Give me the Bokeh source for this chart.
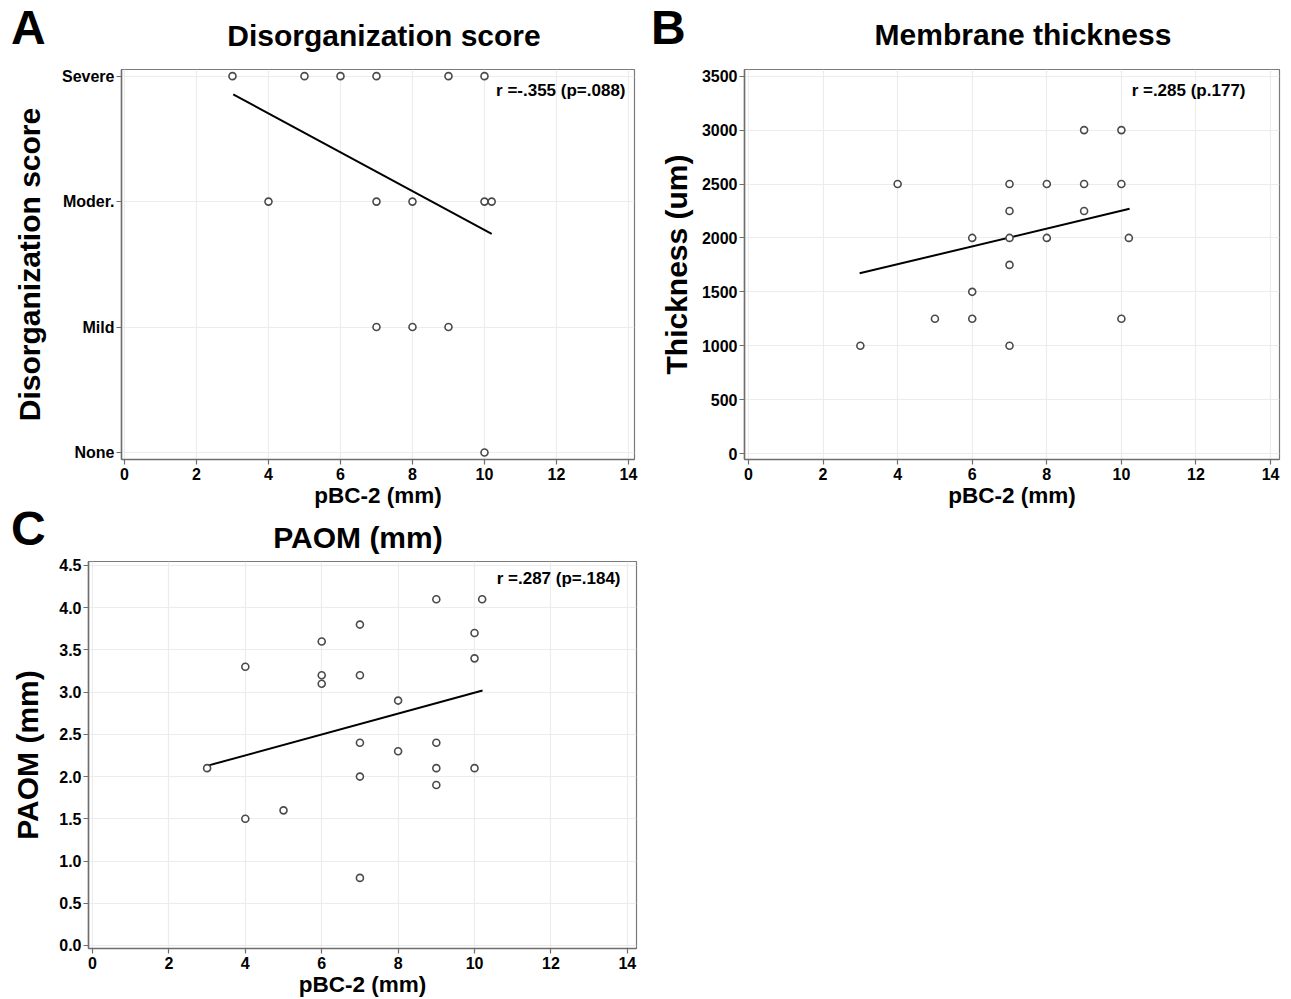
from bokeh.plotting import figure
from bokeh.layouts import column, row
from bokeh.models import FixedTicker, Label, Range1d, Div
from bokeh.embed import file_html
from bokeh.resources import INLINE

FONT = "Liberation Sans"

# ---------------- data ----------------
x_ticks = [0, 2, 4, 6, 8, 10, 12, 14]

# Panel A: disorganization score (0=None, 1=Mild, 2=Moder., 3=Severe)
dis_levels = [0, 1, 2, 3]
dis_level_names = ["None", "Mild", "Moder.", "Severe"]
dis_x = [3, 5, 6, 7, 9, 10, 4, 7, 8, 10, 10.2, 7, 8, 9, 10]
dis_y = [3, 3, 3, 3, 3, 3, 2, 2, 2, 2, 2, 1, 1, 1, 0]
dis_fit_x = [3.02, 10.2]
dis_fit_y = [2.855, 1.742]
dis_note = "r =-.355 (p=.088)"

# Panel B: membrane thickness
thk_ticks = [0, 500, 1000, 1500, 2000, 2500, 3000, 3500]
thk_x = [4, 7, 8, 9, 10, 9, 10, 7, 9, 6, 7, 8, 10.2, 7, 6, 5, 6, 10, 3, 7]
thk_y = [2500, 2500, 2500, 2500, 2500, 3000, 3000, 2250, 2250, 2000, 2000, 2000, 2000,
         1750, 1500, 1250, 1250, 1250, 1000, 1000]
thk_fit_x = [2.98, 10.22]
thk_fit_y = [1672, 2270]
thk_note = "r =.285 (p.177)"

# Panel C: PAOM
paom_ticks = [0.0, 0.5, 1.0, 1.5, 2.0, 2.5, 3.0, 3.5, 4.0, 4.5]
paom_x = [9, 10.2, 7, 10, 6, 10, 4, 6, 7, 6, 8, 7, 9, 8, 3, 9, 10, 7, 9, 5, 4, 7]
paom_y = [4.1, 4.1, 3.8, 3.7, 3.6, 3.4, 3.3, 3.2, 3.2, 3.1, 2.9, 2.4, 2.4, 2.3, 2.1, 2.1,
          2.1, 2.0, 1.9, 1.6, 1.5, 0.8]
paom_fit_x = [3.02, 10.21]
paom_fit_y = [2.13, 3.02]
paom_note = "r =.287 (p=.184)"


def make_header(width, height, letter, letter_x, letter_top, title, title_cx, title_top):
    html = (
        f"<div style=\"position:relative;width:{width}px;height:{height}px;"
        f"font-family:'{FONT}',Arial,sans-serif;font-weight:bold;color:black;"
        f"overflow:visible;margin:0;padding:0;\">"
        f"<span style=\"position:absolute;left:{letter_x}px;top:{letter_top}px;"
        f"font-size:48px;line-height:1;white-space:nowrap;\">{letter}</span>"
        f"<span style=\"position:absolute;left:{title_cx}px;top:{title_top}px;"
        f"transform:translateX(-50%);font-size:30px;line-height:1;"
        f"white-space:nowrap;\">{title}</span>"
        f"</div>"
    )
    return Div(text=html, width=width, height=height,
               styles={"margin": "0", "padding": "0", "overflow": "visible"})


def make_panel(width, height, bl, br, bt, bb, xr, yr, ylabel, ylabel_standoff,
               note, note_dx, note_dy):
    p = figure(width=width, height=height, output_backend="svg", toolbar_location=None,
               x_range=Range1d(*xr), y_range=Range1d(*yr), title_location=None,
               min_border_left=bl, min_border_right=br, min_border_top=bt,
               min_border_bottom=bb)
    p.background_fill_color = "white"
    p.border_fill_color = "white"
    p.outline_line_color = "#7a7a7a"
    p.outline_line_width = 1.2
    for ax in (p.xaxis[0], p.yaxis[0]):
        ax.axis_line_color = "#6e6e6e"
        ax.axis_line_width = 1.5
        ax.major_tick_line_color = "#6e6e6e"
        ax.major_tick_line_width = 1.2
        ax.major_tick_out = 5
        ax.major_tick_in = 0
        ax.minor_tick_line_color = None
        ax.major_label_text_font = FONT
        ax.major_label_text_font_style = "bold"
        ax.major_label_text_font_size = "16px"
        ax.major_label_text_color = "black"
        ax.axis_label_text_font = FONT
        ax.axis_label_text_font_style = "bold"
        ax.axis_label_text_color = "black"
    p.xaxis[0].ticker = FixedTicker(ticks=x_ticks)
    p.xaxis[0].major_label_standoff = 3
    p.xaxis[0].axis_label = "pBC-2 (mm)"
    p.xaxis[0].axis_label_text_font_size = "22.5px"
    p.xaxis[0].axis_label_standoff = 0
    p.yaxis[0].major_label_standoff = 2
    p.yaxis[0].axis_label = ylabel
    p.yaxis[0].axis_label_text_font_size = "30px"
    p.yaxis[0].axis_label_standoff = ylabel_standoff
    p.xgrid.grid_line_color = "#ececec"
    p.ygrid.grid_line_color = "#ececec"
    p.xgrid.grid_line_width = 1.2
    p.ygrid.grid_line_width = 1.2
    fw = width - bl - br
    fh = height - bt - bb
    p.add_layout(Label(x=fw - note_dx, y=fh - note_dy, x_units="screen", y_units="screen",
                       text=note, text_font=FONT, text_font_style="bold",
                       text_font_size="17px", text_color="black",
                       text_baseline="middle", text_align="right"))
    return p


def add_points(p, xs, ys, fx, fy):
    p.line(fx, fy, line_color="black", line_width=2)
    p.scatter(xs, ys, marker="circle", size=7, fill_color="white",
              line_color="#4a4a4a", line_width=1.6)


# Panel A
hA = make_header(640, 60, "A", 11, 4, "Disorganization score", 384, 21)
pA = make_panel(640, 450, 121, 6, 9, 49, (-0.083, 14.167), (-0.056, 3.053),
                "Disorganization score", 13, dis_note, 9, 23)
pA.yaxis[0].ticker = FixedTicker(ticks=dis_levels)
pA.yaxis[0].major_label_overrides = {lv: nm for lv, nm in zip(dis_levels, dis_level_names)}
add_points(pA, dis_x, dis_y, dis_fit_x, dis_fit_y)

# Panel B
hB = make_header(651, 60, "B", 11, 4, "Membrane thickness", 383, 20)
pB = make_panel(651, 450, 104, 12, 9, 48, (-0.107, 14.24), (-55, 3562),
                "Thickness (um)", 6, thk_note, 34, 24)
pB.yaxis[0].ticker = FixedTicker(ticks=thk_ticks)
add_points(pB, thk_x, thk_y, thk_fit_x, thk_fit_y)

# Panel C
hC = make_header(640, 45, "C", 11, -5, "PAOM (mm)", 358, 13)
pC = make_panel(640, 444, 88, 4, 6, 51, (-0.105, 14.24), (-0.036, 4.547),
                "PAOM (mm)", 12, paom_note, 16, 17)
pC.yaxis[0].ticker = FixedTicker(ticks=paom_ticks)
pC.yaxis[0].major_label_overrides = {t: f"{t:.1f}" for t in paom_ticks}
add_points(pC, paom_x, paom_y, paom_fit_x, paom_fit_y)

layout = column(row(column(hA, pA), column(hB, pB)), column(hC, pC))

open("out.html", "w").write(file_html(layout, INLINE))
